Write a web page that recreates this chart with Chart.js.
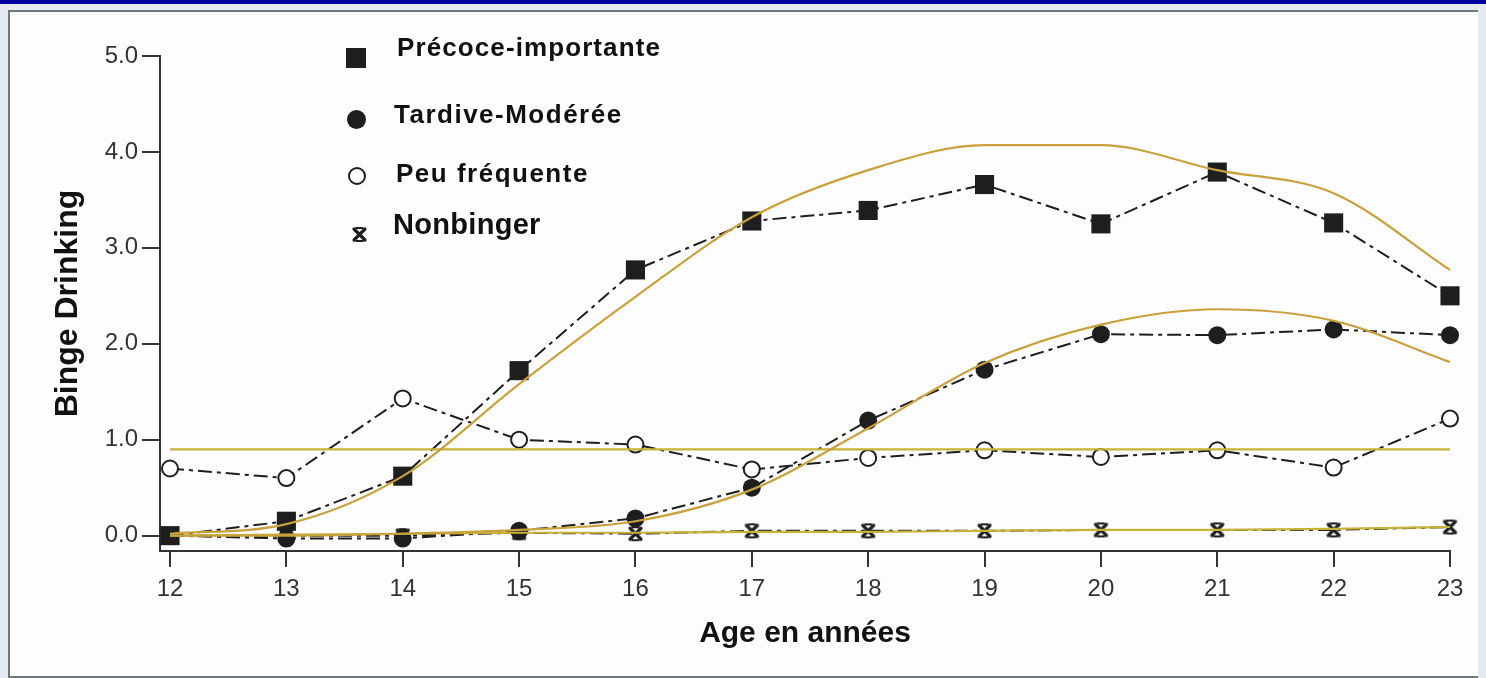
<!DOCTYPE html>
<html>
<head>
<meta charset="utf-8">
<script src="https://cdn.jsdelivr.net/npm/chart.js@4.4.1/dist/chart.umd.min.js"></script>
<style>
    body { margin: 0; width: 1486px; height: 678px; overflow: hidden; position: relative; background: #e4eaf1; font-family: "Liberation Sans", Arial, sans-serif; }
    #bande { position: absolute; left: 0; top: 0; width: 1486px; height: 4px; background: #00009c; }
    #cadre { position: absolute; left: 8px; top: 10px; width: 1468px; height: 664px; border-left: 2px solid #6e757b; border-top: 2px solid #6e757b; border-bottom: 2px solid #6e757b; background: #fdfdfd; }
    #graph { position: absolute; left: 0; top: 0; }
    .leg { position: absolute; font-weight: bold; color: #111; white-space: nowrap; line-height: 1; }
    .mk { position: absolute; }
</style>
</head>
<body>
<div id="bande"></div>
<div id="cadre"></div>
<canvas id="graph" width="1486" height="678"></canvas>
<div id="legende"></div>
<script>
    // Données
    const ages = [12, 13, 14, 15, 16, 17, 18, 19, 20, 21, 22, 23];
    const yTicks = [0, 1, 2, 3, 4, 5];
    const groupes = ['Précoce-importante', 'Tardive-Modérée', 'Peu fréquente', 'Nonbinger'];

    const precoce     = [0.00, 0.15, 0.62, 1.72, 2.77, 3.28, 3.39, 3.66, 3.25, 3.79, 3.26, 2.50];
    const precoceFit  = [0.02, 0.12, 0.62, 1.58, 2.49, 3.32, 3.81, 4.07, 4.07, 3.81, 3.57, 2.77];
    const tardive     = [0.00, -0.03, -0.03, 0.05, 0.18, 0.50, 1.20, 1.73, 2.10, 2.09, 2.15, 2.09];
    const tardiveFit  = [0.00, 0.00, 0.02, 0.06, 0.15, 0.48, 1.12, 1.80, 2.20, 2.36, 2.24, 1.81];
    const peu         = [0.70, 0.60, 1.43, 1.00, 0.95, 0.69, 0.81, 0.89, 0.82, 0.89, 0.71, 1.22];
    const peuFit      = [0.90, 0.90, 0.90, 0.90, 0.90, 0.90, 0.90, 0.90, 0.90, 0.90, 0.90, 0.90];
    const nonbinger   = [0.00, 0.00, 0.00, 0.03, 0.02, 0.05, 0.05, 0.05, 0.06, 0.06, 0.06, 0.09];
    const nonbingerFit = [0.00, 0.01, 0.02, 0.03, 0.03, 0.04, 0.04, 0.05, 0.06, 0.06, 0.07, 0.09];

    const police = '"Liberation Sans", Arial, sans-serif';
    const noir = '#1e1e1e';
    const ocre = '#c9a13c';
    const jaune = '#c6b238';

    // marqueur "x" avec petites barres (Nonbinger)
    function etoile(taille) {
        const c = document.createElement('canvas');
        c.width = taille; c.height = taille;
        const g = c.getContext('2d');
        const m = 3;
        g.strokeStyle = noir;
        g.lineCap = 'round';
        g.lineWidth = 3.2;
        g.beginPath();
        g.moveTo(m, m); g.lineTo(taille - m, taille - m);
        g.moveTo(taille - m, m); g.lineTo(m, taille - m);
        g.stroke();
        g.lineWidth = 1.8;
        g.beginPath();
        g.moveTo(taille * 0.3, m - 1); g.lineTo(taille * 0.7, m - 1);
        g.moveTo(taille * 0.3, taille - m + 1); g.lineTo(taille * 0.7, taille - m + 1);
        g.stroke();
        return c;
    }

    function serie(valeurs) {
        return valeurs.map((v, i) => ({ x: ages[i], y: v }));
    }

    const tirets = [14, 5, 4, 5];

    function donnees(label, valeurs, style) {
        return Object.assign({
            label: label,
            data: serie(valeurs),
            borderColor: noir,
            borderWidth: 2,
            borderDash: tirets,
            tension: 0,
            pointBorderColor: noir,
            pointBackgroundColor: noir,
            clip: false,
            order: 2
        }, style);
    }

    function ajustement(label, valeurs, couleur) {
        return {
            label: label,
            data: serie(valeurs),
            borderColor: couleur,
            borderWidth: 2.2,
            cubicInterpolationMode: 'monotone',
            pointRadius: 0,
            clip: false,
            order: 1
        };
    }

    const ctx = document.getElementById('graph').getContext('2d');
    new Chart(ctx, {
        type: 'line',
        data: {
            datasets: [
                donnees(groupes[0], precoce, { pointStyle: 'rect', pointRadius: 13.5, pointBorderWidth: 0 }),
                donnees(groupes[1], tardive, { pointStyle: 'circle', pointRadius: 9, pointBorderWidth: 0 }),
                donnees(groupes[2], peu, { pointStyle: 'circle', pointRadius: 8, pointBorderWidth: 2, pointBackgroundColor: '#ffffff' }),
                donnees(groupes[3], nonbinger, { pointStyle: etoile(17), pointRadius: 9 }),
                ajustement(groupes[0] + ' (ajusté)', precoceFit, ocre),
                ajustement(groupes[1] + ' (ajusté)', tardiveFit, ocre),
                ajustement(groupes[2] + ' (ajusté)', peuFit, jaune),
                ajustement(groupes[3] + ' (ajusté)', nonbingerFit, jaune)
            ]
        },
        options: {
            responsive: false,
            animation: false,
            layout: { padding: { left: 0, top: 56, right: 36, bottom: 0 } },
            plugins: { legend: { display: false }, tooltip: { enabled: false } },
            scales: {
                x: {
                    type: 'linear',
                    min: 11.914,
                    max: 23,
                    afterBuildTicks: s => { s.ticks = ages.map(v => ({ value: v })); },
                    afterFit: s => { s.height = 127; },
                    border: { display: true, color: '#333', width: 2 },
                    grid: { drawOnChartArea: false, drawTicks: true, tickLength: 16, color: '#333', lineWidth: 2 },
                    ticks: { color: '#333', font: { family: police, size: 24 }, padding: 8, maxRotation: 0 },
                    title: { display: true, text: 'Age en années', color: '#111', font: { family: police, size: 30, weight: 'bold' }, padding: { top: 0, bottom: 26 } }
                },
                y: {
                    min: -0.16,
                    max: 5,
                    afterBuildTicks: s => { s.ticks = yTicks.map(v => ({ value: v })); },
                    afterFit: s => { s.width = 160; },
                    border: { display: true, color: '#333', width: 2 },
                    grid: { drawOnChartArea: false, drawTicks: true, tickLength: 18, color: '#333', lineWidth: 2 },
                    ticks: { color: '#333', font: { family: police, size: 24 }, padding: 4, callback: v => v.toFixed(1) },
                    title: { display: true, text: 'Binge Drinking', color: '#111', font: { family: police, size: 32, weight: 'bold' }, padding: { top: 49, bottom: 0 } }
                }
            }
        }
    });

    // Légende en HTML
    const legende = document.getElementById('legende');
    const textes = [
        { x: 397, y: 34, size: 26, sp: 1.1 },
        { x: 394, y: 101, size: 26, sp: 1.5 },
        { x: 396, y: 160, size: 26, sp: 1.5 },
        { x: 393, y: 210, size: 29, sp: 0.3 }
    ];
    groupes.forEach((nom, i) => {
        const t = document.createElement('div');
        t.className = 'leg';
        t.textContent = nom;
        t.style.left = textes[i].x + 'px';
        t.style.top = textes[i].y + 'px';
        t.style.fontSize = textes[i].size + 'px';
        t.style.letterSpacing = textes[i].sp + 'px';
        legende.appendChild(t);
    });
    const carre = document.createElement('div');
    carre.className = 'mk';
    Object.assign(carre.style, { left: '346px', top: '48px', width: '20px', height: '20px', background: noir });
    legende.appendChild(carre);
    const rond = document.createElement('div');
    rond.className = 'mk';
    Object.assign(rond.style, { left: '347px', top: '110px', width: '19px', height: '19px', borderRadius: '50%', background: noir });
    legende.appendChild(rond);
    const creux = document.createElement('div');
    creux.className = 'mk';
    Object.assign(creux.style, { left: '348px', top: '167px', width: '14px', height: '14px', borderRadius: '50%', border: '2px solid ' + noir, background: '#fff' });
    legende.appendChild(creux);
    const x = etoile(17);
    x.className = 'mk';
    Object.assign(x.style, { left: '351px', top: '226px' });
    legende.appendChild(x);
</script>
</body>
</html>
